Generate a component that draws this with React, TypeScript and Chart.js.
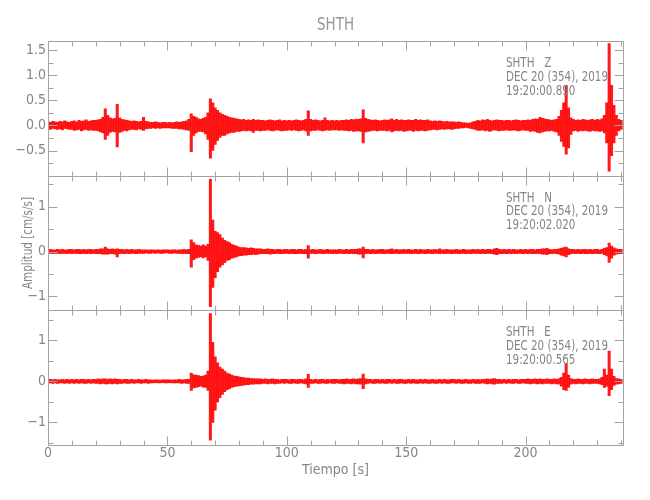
import React, { useEffect, useRef } from "react";
import { Chart, registerables } from "chart.js";

Chart.register(...registerables);

// ---------- data (per-second max / min envelope) ----------
const stationName = "SHTH";
const dateLabel = "DEC 20 (354), 2019";
const components = ["Z", "N", "E"];
const startTimes = ["19:20:00.890", "19:20:02.020", "19:20:00.565"];
const xTickLabels = [0, 50, 100, 150, 200];
const zTickLabels = [-0.5, 0, 0.5, 1.0, 1.5];
const nTickLabels = [-1, 0, 1];
const eTickLabels = [-1, 0, 1];
const xTitle = "Tiempo [s]";
const yTitle = "Amplitud [cm/s/s]";

const zUp = [
  .07,.06,.08,.07,.06,.08,.07,.09,.07,.06,
  .08,.09,.07,.1,.08,.09,.11,.08,.09,.1,
  .1,.11,.12,.16,.33,.2,.15,.13,.14,.42,
  .15,.12,.11,.1,.09,.08,.09,.08,.07,.08,
  .16,.08,.07,.06,.06,.07,.06,.05,.06,.06,
  .05,.06,.05,.06,.07,.06,.07,.08,.09,.12,
  .23,.18,.16,.13,.12,.14,.16,.25,.53,.45,
  .35,.3,.25,.22,.2,.18,.16,.15,.14,.13,
  .12,.11,.12,.1,.11,.1,.12,.1,.11,.1,
  .1,.09,.1,.11,.1,.09,.1,.11,.09,.1,
  .09,.1,.09,.1,.11,.1,.09,.1,.12,.29,
  .12,.1,.11,.1,.09,.1,.15,.1,.09,.1,
  .09,.1,.09,.1,.1,.11,.1,.12,.11,.12,
  .12,.13,.31,.14,.12,.11,.1,.11,.1,.09,
  .1,.11,.1,.11,.13,.1,.12,.1,.11,.1,
  .1,.11,.1,.1,.12,.1,.11,.1,.1,.11,
  .09,.08,.09,.08,.09,.08,.07,.08,.07,.07,
  .07,.06,.07,.06,.05,.05,.04,.05,.07,.08,
  .1,.09,.11,.1,.12,.1,.09,.1,.11,.1,
  .1,.09,.1,.1,.09,.1,.11,.1,.09,.1,
  .1,.11,.1,.12,.13,.12,.16,.14,.13,.12,
  .11,.1,.11,.12,.18,.3,.45,.8,.35,.15,
  .12,.1,.11,.1,.12,.11,.1,.11,.12,.1,
  .12,.11,.13,.2,.45,1.63,.8,.4,.2,.12,.1,
];
const zLo = [
  -.07,-.08,-.06,-.07,-.08,-.07,-.09,-.06,-.07,-.08,
  -.08,-.1,-.09,-.08,-.11,-.09,-.08,-.1,-.09,-.1,
  -.1,-.11,-.13,-.15,-.28,-.2,-.14,-.12,-.13,-.43,
  -.14,-.12,-.1,-.11,-.09,-.08,-.08,-.09,-.07,-.08,
  -.1,-.07,-.06,-.06,-.05,-.06,-.05,-.06,-.05,-.05,
  -.05,-.05,-.06,-.06,-.06,-.07,-.07,-.08,-.09,-.1,
  -.52,-.2,-.15,-.12,-.12,-.13,-.17,-.28,-.65,-.5,
  -.38,-.3,-.24,-.2,-.2,-.17,-.15,-.14,-.14,-.12,
  -.12,-.11,-.1,-.11,-.1,-.11,-.14,-.1,-.1,-.11,
  -.1,-.1,-.09,-.1,-.11,-.1,-.09,-.1,-.11,-.1,
  -.1,-.09,-.1,-.09,-.1,-.11,-.1,-.09,-.11,-.2,
  -.11,-.1,-.1,-.09,-.1,-.11,-.1,-.09,-.1,-.09,
  -.09,-.09,-.1,-.09,-.1,-.1,-.11,-.1,-.12,-.11,
  -.11,-.12,-.35,-.13,-.12,-.11,-.1,-.1,-.11,-.1,
  -.1,-.1,-.11,-.1,-.13,-.11,-.1,-.11,-.1,-.12,
  -.11,-.1,-.1,-.12,-.1,-.11,-.1,-.1,-.11,-.1,
  -.09,-.08,-.08,-.09,-.08,-.07,-.08,-.07,-.07,-.08,
  -.07,-.06,-.06,-.05,-.05,-.04,-.05,-.06,-.07,-.08,
  -.1,-.1,-.09,-.11,-.1,-.12,-.1,-.09,-.1,-.11,
  -.1,-.1,-.09,-.1,-.1,-.09,-.1,-.11,-.1,-.09,
  -.1,-.1,-.12,-.11,-.12,-.14,-.15,-.13,-.12,-.11,
  -.11,-.1,-.12,-.13,-.2,-.32,-.42,-.57,-.45,-.18,
  -.11,-.1,-.12,-.1,-.11,-.1,-.11,-.12,-.1,-.11,
  -.11,-.12,-.11,-.15,-.35,-.91,-.6,-.35,-.2,-.11,-.08,
];

const nUp = [
  .04,.05,.04,.04,.05,.04,.05,.04,.04,.05,
  .05,.04,.05,.05,.04,.05,.04,.05,.05,.04,
  .05,.05,.06,.06,.1,.06,.05,.06,.05,.06,
  .05,.05,.04,.05,.04,.05,.04,.04,.05,.04,
  .04,.04,.03,.04,.04,.03,.04,.03,.04,.04,
  .04,.03,.04,.04,.03,.04,.04,.05,.04,.05,
  .26,.2,.15,.14,.12,.15,.12,.16,1.61,.7,
  .45,.42,.38,.3,.25,.22,.2,.16,.14,.12,
  .1,.09,.09,.08,.07,.08,.07,.06,.06,.06,
  .05,.05,.06,.05,.05,.04,.05,.05,.04,.05,
  .05,.04,.05,.05,.04,.05,.05,.04,.05,.13,
  .04,.05,.04,.04,.05,.04,.04,.05,.04,.04,
  .04,.04,.05,.04,.04,.05,.04,.05,.05,.05,
  .06,.06,.1,.05,.05,.04,.05,.04,.04,.05,
  .05,.04,.04,.05,.06,.04,.05,.04,.04,.05,
  .04,.05,.04,.04,.05,.04,.05,.04,.04,.05,
  .04,.04,.05,.04,.06,.04,.04,.05,.04,.04,
  .04,.05,.04,.04,.05,.04,.04,.04,.05,.04,
  .05,.04,.05,.04,.05,.05,.04,.06,.07,.05,
  .04,.05,.04,.05,.04,.05,.04,.04,.05,.04,
  .05,.04,.05,.05,.04,.05,.05,.06,.06,.07,
  .05,.04,.05,.05,.06,.07,.09,.1,.06,.05,
  .05,.04,.05,.04,.05,.05,.04,.05,.04,.05,
  .05,.04,.05,.07,.09,.19,.12,.08,.06,.05,.05,
];
const nLo = [
  -.04,-.04,-.05,-.04,-.04,-.05,-.04,-.04,-.05,-.04,
  -.05,-.04,-.04,-.05,-.05,-.04,-.05,-.04,-.05,-.04,
  -.05,-.05,-.05,-.06,-.06,-.06,-.05,-.05,-.06,-.12,
  -.05,-.04,-.05,-.04,-.05,-.04,-.04,-.05,-.04,-.04,
  -.04,-.03,-.04,-.04,-.03,-.04,-.03,-.04,-.04,-.03,
  -.03,-.04,-.04,-.03,-.04,-.04,-.05,-.04,-.05,-.05,
  -.35,-.18,-.15,-.13,-.12,-.14,-.12,-.2,-1.23,-.8,
  -.58,-.45,-.35,-.3,-.25,-.2,-.18,-.15,-.13,-.12,
  -.1,-.09,-.08,-.08,-.07,-.07,-.06,-.07,-.06,-.05,
  -.05,-.05,-.05,-.06,-.05,-.05,-.04,-.05,-.05,-.04,
  -.04,-.05,-.04,-.05,-.05,-.04,-.05,-.05,-.05,-.15,
  -.04,-.04,-.05,-.04,-.04,-.05,-.04,-.04,-.04,-.05,
  -.04,-.05,-.04,-.04,-.05,-.04,-.05,-.04,-.05,-.05,
  -.06,-.06,-.14,-.05,-.04,-.05,-.04,-.05,-.04,-.04,
  -.04,-.05,-.04,-.04,-.05,-.04,-.04,-.05,-.04,-.04,
  -.04,-.04,-.05,-.04,-.04,-.05,-.04,-.04,-.05,-.04,
  -.04,-.05,-.04,-.04,-.05,-.04,-.05,-.04,-.04,-.05,
  -.04,-.04,-.05,-.04,-.04,-.05,-.04,-.05,-.04,-.04,
  -.04,-.05,-.04,-.05,-.04,-.04,-.05,-.06,-.07,-.05,
  -.05,-.04,-.05,-.04,-.05,-.04,-.05,-.04,-.04,-.05,
  -.04,-.05,-.04,-.05,-.05,-.04,-.05,-.06,-.06,-.07,
  -.05,-.05,-.04,-.05,-.06,-.08,-.1,-.12,-.07,-.05,
  -.04,-.05,-.04,-.05,-.04,-.05,-.05,-.04,-.05,-.04,
  -.05,-.05,-.04,-.07,-.1,-.24,-.15,-.08,-.06,-.05,-.05,
];

const eUp = [
  .04,.05,.04,.05,.04,.04,.05,.04,.05,.04,
  .05,.04,.05,.04,.05,.05,.04,.05,.04,.05,
  .05,.06,.05,.06,.06,.05,.06,.05,.06,.05,
  .05,.04,.05,.05,.04,.05,.04,.04,.05,.04,
  .04,.05,.04,.04,.03,.04,.04,.03,.04,.04,
  .04,.04,.03,.04,.04,.05,.04,.04,.05,.05,
  .2,.16,.15,.14,.12,.13,.15,.25,1.65,.95,
  .6,.45,.35,.3,.25,.2,.18,.15,.13,.12,
  .11,.1,.09,.08,.08,.07,.07,.06,.06,.06,
  .05,.06,.05,.05,.06,.05,.05,.04,.05,.05,
  .05,.04,.05,.05,.04,.05,.05,.04,.06,.17,
  .05,.04,.05,.04,.05,.05,.04,.05,.04,.05,
  .05,.05,.04,.05,.05,.06,.05,.05,.06,.05,
  .06,.07,.18,.06,.05,.05,.04,.05,.05,.04,
  .05,.04,.05,.05,.04,.05,.04,.05,.05,.04,
  .04,.05,.04,.05,.04,.04,.05,.04,.05,.04,
  .04,.05,.04,.04,.05,.04,.05,.04,.04,.05,
  .05,.04,.05,.04,.04,.05,.04,.04,.05,.04,
  .05,.04,.05,.05,.06,.05,.06,.07,.05,.05,
  .04,.05,.04,.05,.04,.05,.05,.04,.05,.05,
  .05,.06,.05,.05,.06,.05,.06,.05,.05,.06,
  .05,.05,.06,.05,.07,.1,.2,.44,.15,.07,
  .05,.05,.06,.05,.05,.06,.05,.05,.06,.05,
  .05,.06,.1,.3,.15,.74,.3,.12,.07,.06,.05,
];
const eLo = [
  -.04,-.04,-.05,-.04,-.05,-.04,-.04,-.05,-.04,-.05,
  -.04,-.05,-.04,-.05,-.04,-.05,-.05,-.04,-.05,-.04,
  -.05,-.05,-.06,-.05,-.06,-.06,-.05,-.06,-.05,-.06,
  -.05,-.05,-.04,-.05,-.05,-.04,-.05,-.04,-.04,-.05,
  -.04,-.04,-.05,-.04,-.04,-.03,-.04,-.04,-.03,-.04,
  -.04,-.03,-.04,-.04,-.04,-.04,-.05,-.04,-.05,-.05,
  -.22,-.16,-.15,-.13,-.12,-.14,-.15,-.22,-1.43,-1.0,
  -.7,-.5,-.4,-.32,-.25,-.2,-.18,-.15,-.13,-.12,
  -.11,-.1,-.09,-.08,-.08,-.07,-.07,-.06,-.06,-.06,
  -.05,-.05,-.06,-.05,-.05,-.06,-.05,-.05,-.04,-.05,
  -.04,-.05,-.05,-.04,-.05,-.05,-.04,-.05,-.06,-.15,
  -.05,-.05,-.04,-.05,-.05,-.04,-.05,-.05,-.04,-.05,
  -.05,-.04,-.05,-.05,-.06,-.05,-.05,-.06,-.05,-.06,
  -.06,-.07,-.18,-.06,-.05,-.04,-.05,-.05,-.04,-.05,
  -.04,-.05,-.05,-.04,-.05,-.04,-.05,-.05,-.04,-.05,
  -.05,-.04,-.05,-.04,-.05,-.05,-.04,-.05,-.04,-.05,
  -.05,-.04,-.05,-.05,-.04,-.05,-.04,-.05,-.05,-.04,
  -.04,-.05,-.04,-.05,-.05,-.04,-.05,-.05,-.04,-.05,
  -.05,-.05,-.04,-.05,-.06,-.05,-.06,-.07,-.05,-.05,
  -.05,-.04,-.05,-.04,-.05,-.05,-.04,-.05,-.05,-.04,
  -.05,-.05,-.06,-.05,-.05,-.06,-.05,-.06,-.05,-.05,
  -.05,-.06,-.05,-.06,-.07,-.12,-.2,-.22,-.15,-.07,
  -.05,-.06,-.05,-.05,-.06,-.05,-.05,-.06,-.05,-.05,
  -.05,-.06,-.08,-.15,-.12,-.35,-.2,-.1,-.07,-.06,-.05,
];

// axis ranges per panel
const zRange = [-1.0, 1.68];
const nRange = [-1.31, 1.69];
const eRange = [-1.55, 1.73];
const xRange = [0, 240.8];

// ---------- styling ----------
const FONT = "'Liberation Sans Narrow', 'DejaVu Sans Condensed', 'Liberation Sans', sans-serif";
const TEXT = "#858585";
const AXIS = "#a3a3a3";
const WAVE = "rgba(255,0,0,0.9)";

function buildBars(up: number[], lo: number[]) {
  return up.map((u, i) => ({ x: i, y: [lo[i], u] }));
}

const fmtMinus = (s: string) => s.replace("-", "\u2212");

function panelScale(range: number[], labels: number[], decimals: boolean) {
  const [min, max] = range;
  return {
    type: "linear" as const,
    position: "left" as const,
    stack: "traces",
    stackWeight: 1,
    min,
    max,
    afterFit: (s: any) => {
      s.width = 48;
    },
    afterBuildTicks: (s: any) => {
      s.ticks = labels.map((value) => ({ value }));
    },
    grid: { display: false, drawTicks: false },
    border: { display: false },
    ticks: {
      autoSkip: false,
      padding: 2,
      color: TEXT,
      font: { family: FONT, size: 14 },
      callback: (v: any) => {
        const val = Number(v);
        return fmtMinus(decimals ? (val === 0 ? 0 : val).toFixed(1) : String(Math.round(val)));
      },
    },
  };
}

const panelDefs = [
  { id: "yZ", comp: 0, major: 0.5, minor: 0.25 },
  { id: "yN", comp: 1, major: 1, minor: 0.5 },
  { id: "yE", comp: 2, major: 1, minor: 0.5 },
];

function drawScaledText(ctx: CanvasRenderingContext2D, text: string, x: number, y: number, sx: number) {
  ctx.save();
  ctx.translate(x, y);
  ctx.scale(sx, 1);
  ctx.fillText(text, 0, 0);
  ctx.restore();
}

const framePlugin = {
  id: "seisFrames",
  afterDatasetsDraw(chart: any) {
    const ctx: CanvasRenderingContext2D = chart.ctx;
    const xs = chart.scales.x;
    const left = xs.left;
    const right = xs.right;
    ctx.save();
    ctx.strokeStyle = AXIS;
    ctx.lineWidth = 1;

    // frames and tick marks
    for (const p of panelDefs) {
      const s = chart.scales[p.id];
      const top = Math.round(s.top) + 0.5;
      const bottom = Math.round(s.bottom) + 0.5;
      const l = Math.round(left) + 0.5;
      const r = Math.round(right) + 0.5;
      ctx.beginPath();
      ctx.rect(l, top, r - l, bottom - top);
      for (let v = 0; v <= xs.max + 1e-6; v += 10) {
        const px = Math.round(xs.getPixelForValue(v)) + 0.5;
        const len = v % 50 === 0 ? 9 : 5;
        ctx.moveTo(px, top);
        ctx.lineTo(px, top + len);
        ctx.moveTo(px, bottom);
        ctx.lineTo(px, bottom - len);
      }
      const start = Math.ceil(s.min / p.minor) * p.minor;
      for (let v = start; v <= s.max + 1e-6; v += p.minor) {
        const py = Math.round(s.getPixelForValue(v)) + 0.5;
        const isMajor = Math.abs(v / p.major - Math.round(v / p.major)) < 1e-6;
        const len = isMajor ? 9 : 5;
        ctx.moveTo(l, py);
        ctx.lineTo(l + len, py);
        ctx.moveTo(r, py);
        ctx.lineTo(r - len, py);
      }
      ctx.stroke();
    }

    // station annotations
    ctx.fillStyle = TEXT;
    ctx.font = `14px ${FONT}`;
    ctx.textAlign = "left";
    ctx.textBaseline = "alphabetic";
    const sxAnn = 102 / ctx.measureText(dateLabel).width;
    const annX = right - 117;
    for (const p of panelDefs) {
      const s = chart.scales[p.id];
      const lines = [`${stationName}   ${components[p.comp]}`, dateLabel, startTimes[p.comp]];
      const offs = [26, 39.5, 53.5];
      lines.forEach((t, i) => drawScaledText(ctx, t, annX, s.top + offs[i], sxAnn));
    }

    // title
    ctx.font = `18px ${FONT}`;
    ctx.fillStyle = "#979797";
    const sxT = 37 / ctx.measureText(stationName).width;
    const tw = ctx.measureText(stationName).width * sxT;
    drawScaledText(ctx, stationName, (left + right) / 2 - tw / 2, 30, sxT);

    // y-axis title
    ctx.font = `14px ${FONT}`;
    ctx.fillStyle = TEXT;
    const yw = ctx.measureText(yTitle).width;
    const sxY = 92 / yw;
    const top = chart.scales.yZ.top;
    const bottom = chart.scales.yE.bottom;
    ctx.save();
    ctx.translate(28.5, (top + bottom) / 2);
    ctx.rotate(-Math.PI / 2);
    ctx.scale(sxY, 1);
    ctx.textAlign = "center";
    ctx.textBaseline = "middle";
    ctx.fillText(yTitle, 0, 0);
    ctx.restore();

    ctx.restore();
  },
};

export default function App() {
  const ref = useRef<HTMLCanvasElement>(null);

  useEffect(() => {
    if (!ref.current) return;
    const chart = new Chart(ref.current, {
      type: "bar",
      data: {
        datasets: [
          { label: "Z", data: buildBars(zUp, zLo), yAxisID: "yZ" },
          { label: "N", data: buildBars(nUp, nLo), yAxisID: "yN" },
          { label: "E", data: buildBars(eUp, eLo), yAxisID: "yE" },
        ].map((d) => ({
          ...d,
          backgroundColor: WAVE,
          borderWidth: 0,
          grouped: false,
          barPercentage: 1,
          categoryPercentage: 1,
        })),
      } as any,
      options: {
        animation: false,
        responsive: false,
        layout: { padding: { top: 41, right: 27, bottom: 0, left: 0 } },
        plugins: {
          legend: { display: false },
          tooltip: { enabled: false },
          title: { display: false },
        },
        events: [],
        scales: {
          x: {
            type: "linear",
            position: "bottom",
            offset: false,
            min: xRange[0],
            max: xRange[1],
            afterFit: (s: any) => {
              s.height = 55;
            },
            afterBuildTicks: (s: any) => {
              s.ticks = xTickLabels.map((value) => ({ value }));
            },
            grid: { display: false, drawTicks: false, offset: false },
            border: { display: false },
            ticks: {
              autoSkip: false,
              maxRotation: 0,
              padding: 0,
              color: TEXT,
              font: { family: FONT, size: 14 },
              callback: (v: any) => String(v),
            },
            title: {
              display: true,
              text: xTitle,
              color: TEXT,
              font: { family: FONT, size: 14 },
              padding: { top: 0, bottom: 21 },
            },
          },
          yE: panelScale(eRange, eTickLabels, false),
          yN: panelScale(nRange, nTickLabels, false),
          yZ: panelScale(zRange, zTickLabels, true),
        } as any,
      },
      plugins: [framePlugin],
    });
    return () => chart.destroy();
  }, []);

  return (
    <div style={{ position: "absolute", left: 0, top: 0, width: 650, height: 500, background: "#fff" }}>
      <canvas ref={ref} width={650} height={500} style={{ display: "block", width: 650, height: 500 }} />
    </div>
  );
}
